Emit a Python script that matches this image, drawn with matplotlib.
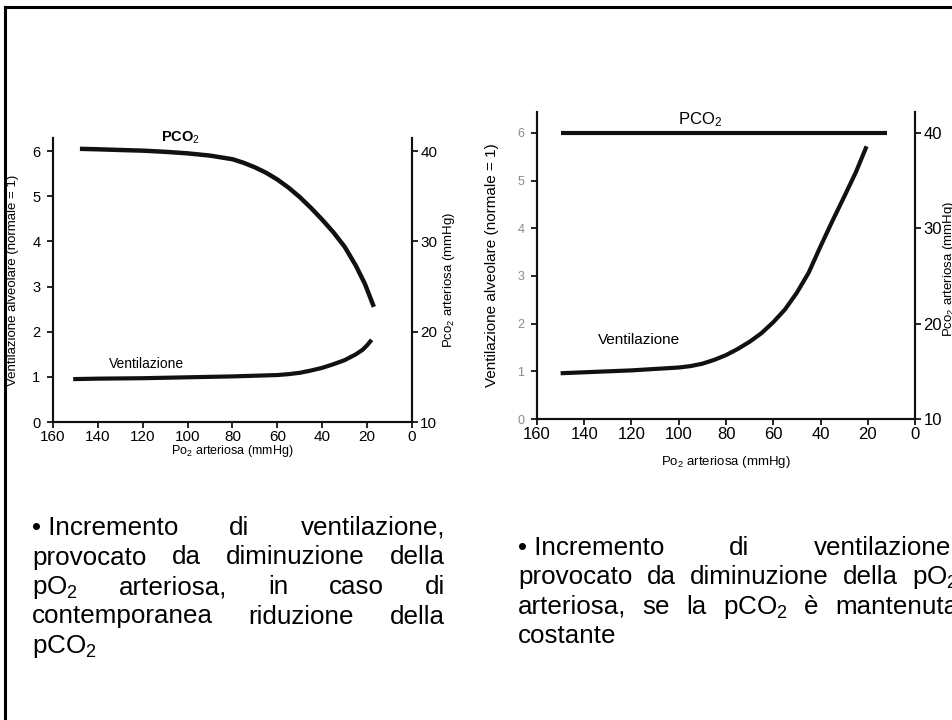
import matplotlib
matplotlib.use('Agg')
import matplotlib.pyplot as plt
from matplotlib.lines import Line2D

plt.rcParams['mathtext.fontset'] = 'custom'
plt.rcParams['mathtext.rm'] = 'Liberation Sans'
plt.rcParams['mathtext.it'] = 'Liberation Sans:italic'
plt.rcParams['mathtext.bf'] = 'Liberation Sans:bold'
plt.rcParams['mathtext.default'] = 'rm'
FONT = 'Liberation Sans'
plt.rcParams['font.family'] = [FONT, 'DejaVu Sans']

# ---------------- data ----------------
po2_ticks = [160, 140, 120, 100, 80, 60, 40, 20, 0]
vent_ticks = [0, 1, 2, 3, 4, 5, 6]
pco2_ticks = [10, 20, 30, 40]

# left chart: PCO2 falls as ventilation rises
left_pco2_x = [148, 140, 130, 120, 110, 100, 90, 85, 80, 75, 70, 65, 60, 55, 50, 45, 40, 35, 30, 25, 21, 17]
left_pco2_y = [40.25, 40.2, 40.12, 40.05, 39.92, 39.75, 39.5, 39.3, 39.1, 38.7, 38.2, 37.6, 36.85,
               35.95, 34.9, 33.7, 32.4, 31.0, 29.4, 27.3, 25.3, 22.75]
left_vent_x = [151, 140, 120, 100, 80, 60, 55, 50, 45, 40, 35, 30, 25, 22, 20, 18]
left_vent_y = [0.95, 0.96, 0.97, 0.99, 1.01, 1.04, 1.06, 1.09, 1.14, 1.2, 1.28, 1.37, 1.5, 1.6, 1.7, 1.82]

# right chart: PCO2 kept constant
right_pco2_x = [150, 12]
right_pco2_y = [40, 40]
right_vent_x = [150, 140, 130, 120, 110, 100, 95, 90, 85, 80, 75, 70, 65, 60, 55, 50, 45, 40, 35, 30, 25, 20.5]
right_vent_y = [0.96, 0.98, 1.0, 1.02, 1.05, 1.08, 1.11, 1.16, 1.24, 1.34, 1.47, 1.62, 1.80, 2.03,
                2.30, 2.65, 3.07, 3.62, 4.15, 4.66, 5.18, 5.72]

left_lines = [
    ['\u2022 Incremento', 'di', 'ventilazione,'],
    ['provocato', 'da', 'diminuzione', 'della'],
    ['pO$_2$', 'arteriosa,', 'in', 'caso', 'di'],
    ['contemporanea', 'riduzione', 'della'],
    ['pCO$_2$'],
]
right_lines = [
    ['\u2022 Incremento', 'di', 'ventilazione,'],
    ['provocato', 'da', 'diminuzione', 'della', 'pO$_2$'],
    ['arteriosa,', 'se', 'la', 'pCO$_2$', '\u00e8', 'mantenuta'],
    ['costante'],
]

W, H = 953, 720
fig = plt.figure(figsize=(W / 100, H / 100), dpi=100)
fig.patch.set_facecolor('white')

def X(px):
    return px / W

def Y(py):
    return 1 - py / H

# slide frame (top and left edges visible)
fig.add_artist(Line2D([X(5.5), 1.0], [Y(6.5), Y(6.5)], color='black', lw=2.2))
fig.add_artist(Line2D([X(5.5), X(5.5)], [0.0, Y(6.5)], color='black', lw=2.2))

CURVE = '#111111'
LINE_KW = dict(color=CURVE, solid_capstyle='butt', solid_joinstyle='round')

def style_axes(ax, ax2, tick_fs, left_tick_color='black'):
    for a in (ax, ax2):
        a.spines['top'].set_visible(False)
        for s in ('left', 'right', 'bottom'):
            a.spines[s].set_linewidth(1.5)
            a.spines[s].set_color('#111111')
        a.patch.set_alpha(0)
    ax.set_xlim(160, 0)
    ax.set_xticks(po2_ticks)
    ax.set_xticklabels([str(t) for t in po2_ticks])
    ax.set_yticks(vent_ticks)
    ax.set_yticklabels([str(t) for t in vent_ticks])
    ax.tick_params(axis='x', direction='out', length=4, width=1.2, pad=2, labelsize=tick_fs)
    ax.tick_params(axis='y', direction='out', length=4, width=1.2, pad=5,
                   labelsize=tick_fs - 0.5, labelcolor=left_tick_color)
    ax2.set_yticks(pco2_ticks)
    ax2.set_yticklabels([str(t) for t in pco2_ticks])
    ax2.tick_params(axis='y', direction='out', length=4, width=1.2, pad=2, labelsize=tick_fs)

# ---------------- left chart ----------------
axL = fig.add_axes([X(53), Y(422), X(412) - X(53), Y(138) - Y(422)])
axL2 = axL.twinx()
axL.set_ylim(0, 6.29)
axL2.set_ylim(10, 10 + 5 * 6.29)
style_axes(axL, axL2, 11)
axL.plot(left_vent_x, left_vent_y, lw=3, **LINE_KW)
axL2.plot(left_pco2_x, left_pco2_y, lw=3.2, **LINE_KW)
axL.set_xlabel('Po$_2$ arteriosa (mmHg)', fontsize=9)
axL.xaxis.set_label_coords(0.5, -0.075)
axL.set_ylabel('Ventilazione alveolare (normale = 1)', fontsize=9.5)
axL.yaxis.set_label_coords(-0.095, 0.5)
axL2.set_ylabel('Pco$_2$ arteriosa (mmHg)', fontsize=9.5)
axL2.yaxis.set_label_coords(1.08, 0.5)
axL.text(103, 6.3, 'PCO$_2$', fontsize=10.5, fontweight='bold', ha='center', va='center',
         clip_on=False)
axL.text(118.5, 1.28, 'Ventilazione', fontsize=10, ha='center', va='center')

# ---------------- right chart ----------------
axR = fig.add_axes([X(537), Y(419), X(915) - X(537), Y(112) - Y(419)])
axR2 = axR.twinx()
axR.set_ylim(0, 6.44)
axR2.set_ylim(10, 10 + 5 * 6.44)
style_axes(axR, axR2, 12, left_tick_color='#8a8a8a')
axR.tick_params(axis='y', labelsize=9)
axR.plot(right_vent_x, right_vent_y, lw=3, **LINE_KW)
axR2.plot(right_pco2_x, right_pco2_y, lw=3, **LINE_KW)
axR.set_xlabel('Po$_2$ arteriosa (mmHg)', fontsize=9.5)
axR.xaxis.set_label_coords(0.5, -0.115)
axR.set_ylabel('Ventilazione alveolare (normale = 1)', fontsize=11)
axR.yaxis.set_label_coords(-0.1, 0.5)
axR2.set_ylabel('Pco$_2$ arteriosa (mmHg)', fontsize=9.5)
axR2.yaxis.set_label_coords(1.07, 0.49)
axR.text(91, 6.27, 'PCO$_2$', fontsize=12, ha='center', va='center', clip_on=False)
axR.text(117, 1.66, 'Ventilazione', fontsize=11, ha='center', va='center')

# ---------------- justified slide text ----------------
renderer = fig.canvas.get_renderer()
TXT_FS = 18.7

def place_line(words, x0, x1, base, justify=True):
    texts = [fig.text(0, Y(base), w, fontsize=TXT_FS, family=FONT, ha='left', va='baseline')
             for w in words]
    widths = [t.get_window_extent(renderer).width for t in texts]
    if justify and len(words) > 1:
        gap = (x1 - x0 - sum(widths)) / (len(words) - 1)
    else:
        gap = 7.2
    x = x0
    for t, w in zip(texts, widths):
        t.set_x(X(x))
        x += w + gap

def place_block(lines, x0, x1, base0, step):
    for i, words in enumerate(lines):
        last = (i == len(lines) - 1)
        place_line(words, x0, x1, base0 + i * step, justify=not last)

place_block(left_lines, 32, 445, 535, 29.5)
place_block(right_lines, 518, 958, 555, 29.3)

fig.savefig('out.png', dpi=100, facecolor='white')
